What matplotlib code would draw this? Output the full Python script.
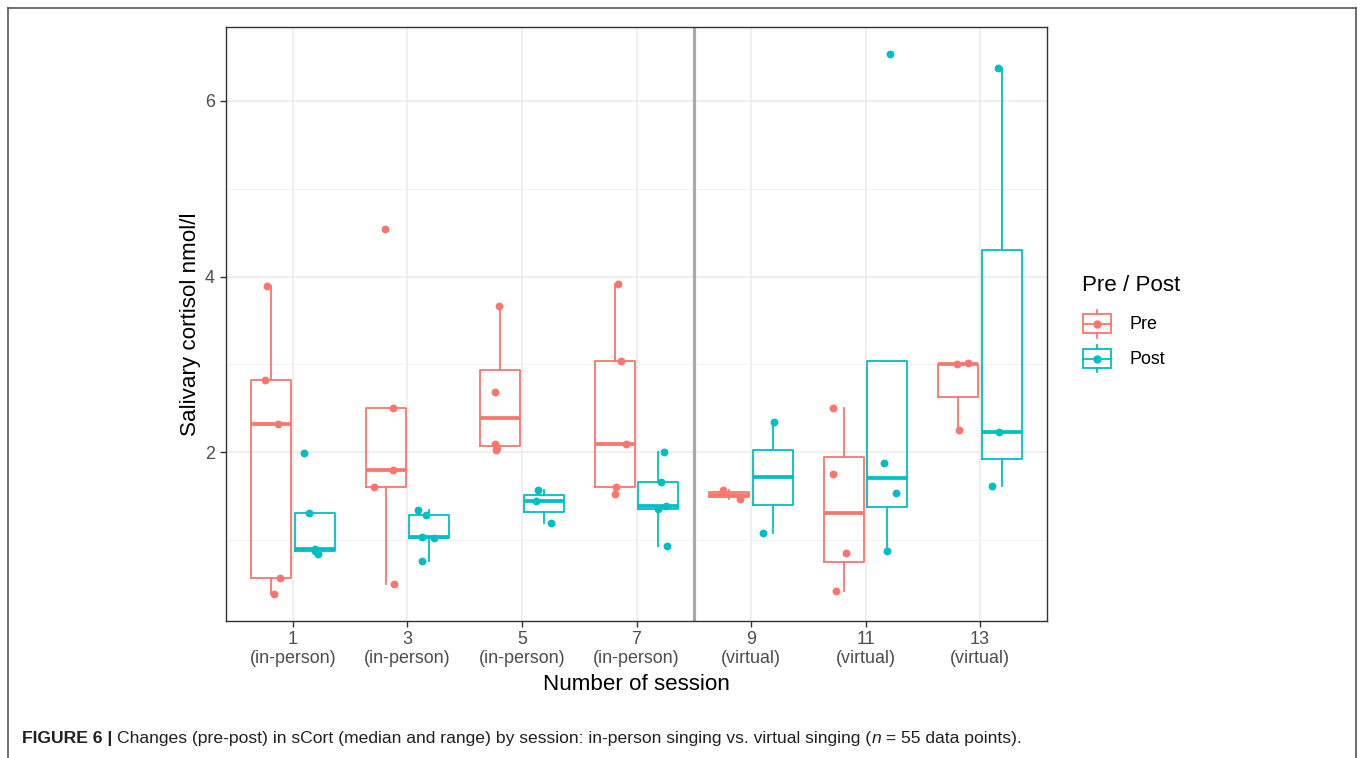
import numpy as np
import matplotlib
matplotlib.use("Agg")
import matplotlib.pyplot as plt
from matplotlib.legend_handler import HandlerBase
from matplotlib.lines import Line2D
from matplotlib.patches import Rectangle

plt.rcParams['font.family'] = ['Liberation Sans', 'DejaVu Sans']

# ---- data -------------------------------------------------------------
sessions = ["1\n(in-person)", "3\n(in-person)", "5\n(in-person)", "7\n(in-person)",
            "9\n(virtual)", "11\n(virtual)", "13\n(virtual)"]

cortisol_pre = [
    [0.39, 0.57, 2.32, 2.82, 3.89],
    [0.50, 1.61, 1.80, 2.50, 4.54],
    [2.03, 2.09, 2.69, 3.67],
    [1.53, 1.61, 2.10, 3.04, 3.92],
    [1.47, 1.57],
    [0.42, 0.86, 1.76, 2.51],
    [2.25, 3.00, 3.02],
]
cortisol_post = [
    [0.84, 0.88, 0.90, 1.31, 1.99],
    [0.76, 1.03, 1.04, 1.29, 1.35],
    [1.20, 1.45, 1.57],
    [0.94, 1.36, 1.39, 1.66, 2.01],
    [1.08, 2.35],
    [0.88, 1.54, 1.88, 6.53],
    [1.62, 2.23, 6.37],
]
group_names = ["Pre", "Post"]
group_colors = ["#F8766D", "#00BFC4"]

# ---- figure -----------------------------------------------------------
W, H = 1360, 758
fig = plt.figure(figsize=(W / 100, H / 100), dpi=100)
fig.patch.set_facecolor("white")
ax = fig.add_axes([226 / W, 1 - 621 / H, (1047 - 226) / W, (621 - 27) / H])

x = np.arange(len(sessions))
dodge = 0.19
box_w = 0.35
rng = np.random.default_rng(7)

for k, (series, col) in enumerate(zip([cortisol_pre, cortisol_post], group_colors)):
    pos = x + (-dodge if k == 0 else dodge)
    ax.boxplot(series, positions=pos, widths=box_w, whis=1.5,
               showcaps=False, showfliers=False, manage_ticks=False,
               boxprops=dict(color=col, linewidth=1.3),
               whiskerprops=dict(color=col, linewidth=1.3),
               medianprops=dict(color=col, linewidth=2.7, solid_capstyle='butt'),
               zorder=2)
    for p, vals in zip(pos, series):
        jit = rng.uniform(-0.1, 0.1, len(vals))
        ax.scatter(p + jit, vals, s=32, color=col, linewidths=0, zorder=3)

# separator between in-person and virtual sessions
ax.axvline(3.5, color="#A9A9A9", linewidth=2.3, zorder=1.5)

# y range with 5% expansion of the data range
allv = np.concatenate([np.concatenate(s) for s in (cortisol_pre, cortisol_post)])
span = allv.max() - allv.min()
ax.set_ylim(allv.min() - 0.05 * span, allv.max() + 0.05 * span)
ax.set_xlim(-0.585, len(sessions) - 1 + 0.585)

ax.set_yticks([2, 4, 6])
ax.set_yticks([1, 3, 5], minor=True)
ax.set_xticks(x)
ax.set_xticklabels(sessions, linespacing=1.15)
ax.tick_params(axis='both', which='major', length=4.5, width=1.0, color="#333333",
               labelsize=12.9, labelcolor="#4D4D4D")
ax.tick_params(axis='x', pad=2.5)
ax.tick_params(axis='y', pad=3.5)
ax.tick_params(which='minor', length=0)
ax.grid(which='major', color="#EBEBEB", linewidth=1.1, zorder=0)
ax.grid(which='minor', axis='y', color="#F2F2F2", linewidth=0.7, zorder=0)
ax.set_axisbelow(True)
for s in ax.spines.values():
    s.set_color("#333333")
    s.set_linewidth(1.0)

ax.set_xlabel("Number of session", fontsize=16.1, color="black", labelpad=5)
ax.set_ylabel("Salivary cortisol nmol/l", fontsize=16.1, color="black", labelpad=3)


# ---- legend with box-style keys ----------------------------------------
class BoxKey(HandlerBase):
    def create_artists(self, legend, orig_handle, xdescent, ydescent,
                       width, height, fontsize, trans):
        c = orig_handle.get_color()
        x0, y0 = -xdescent, -ydescent
        cx, cy = x0 + width / 2, y0 + height / 2
        bw, bh = width * 0.95, height * 0.68
        rect = Rectangle((cx - bw / 2, cy - bh / 2), bw, bh, fill=False,
                         edgecolor=c, linewidth=1.3, transform=trans)
        lo = Line2D([cx, cx], [y0, cy - bh / 2], color=c, lw=1.3, transform=trans)
        hi = Line2D([cx, cx], [cy + bh / 2, y0 + height], color=c, lw=1.3, transform=trans)
        mid = Line2D([cx - bw / 2, cx + bw / 2], [cy, cy], color=c, lw=1.3, transform=trans)
        dot = Line2D([cx], [cy], marker='o', markersize=6, color=c,
                     markeredgewidth=0, linestyle='none', transform=trans)
        return [rect, lo, hi, mid, dot]


handles = [Line2D([], [], color=c) for c in group_colors]
leg = fig.legend(handles, group_names, title="Pre / Post",
                 handler_map={Line2D: BoxKey()},
                 loc='upper left', bbox_to_anchor=(1082 / W, 1 - 275 / H),
                 frameon=False, fontsize=12.9, title_fontsize=16.1,
                 handlelength=1.65, handleheight=2.0, labelspacing=0.4,
                 handletextpad=1.0, borderpad=0, borderaxespad=0)
leg._legend_box.align = "left"
leg._legend_box.sep = 10

# ---- outer frame -------------------------------------------------------
frame_kw = dict(color="#555555", linewidth=1.2, transform=fig.transFigure)
fig.add_artist(Line2D([8 / W, 8 / W], [0, 1 - 8 / H], **frame_kw))
fig.add_artist(Line2D([8 / W, 1356 / W], [1 - 8 / H, 1 - 8 / H], **frame_kw))
fig.add_artist(Line2D([1356 / W, 1356 / W], [0, 1 - 8 / H], **frame_kw))

# ---- caption -----------------------------------------------------------
caption_parts = [
    ("FIGURE 6 | ", 'bold', 'normal'),
    ("Changes (pre-post) in sCort (median and range) by session: in-person singing "
     "vs. virtual singing (", 'normal', 'normal'),
    ("n", 'normal', 'italic'),
    (" = 55 data points).", 'normal', 'normal'),
]
fig.canvas.draw()
renderer = fig.canvas.get_renderer()
xpos = 22
for txt, weight, style in caption_parts:
    t = fig.text(xpos / W, 1 - 743 / H, txt, fontsize=12.6, fontweight=weight,
                 fontstyle=style, color="#231F20", va='baseline', ha='left')
    bb = t.get_window_extent(renderer)
    xpos += bb.width

fig.savefig("out.png", dpi=100, facecolor="white")
